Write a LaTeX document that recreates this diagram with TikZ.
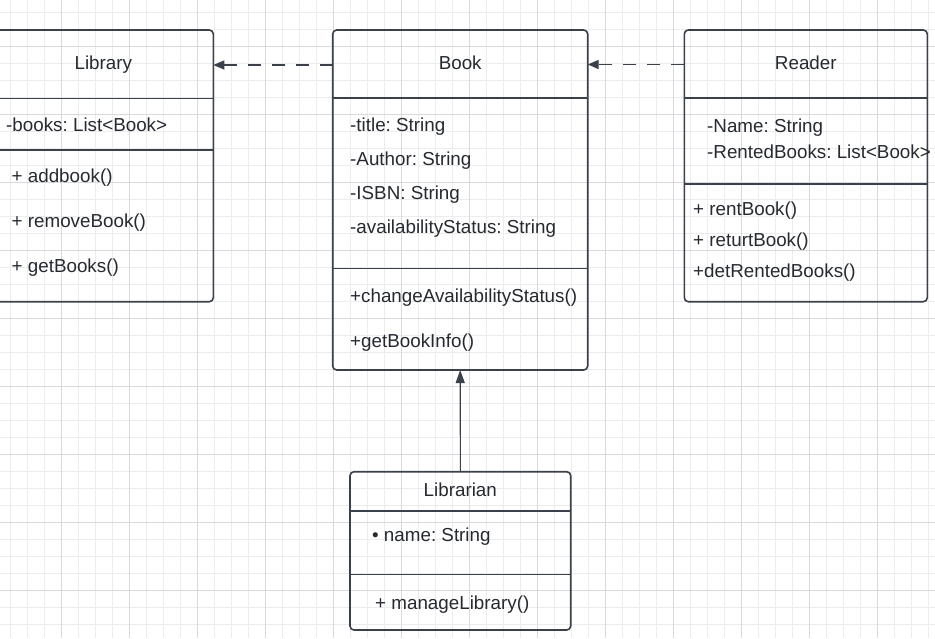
\documentclass[tikz,border=0pt]{standalone}
\usepackage{fontspec}
\setmainfont{Liberation Sans}
\frenchspacing
\usetikzlibrary{arrows.meta}
\definecolor{stroke}{HTML}{3A414A}
\definecolor{txt}{HTML}{262A30}
\definecolor{gridminor}{HTML}{ECECEC}
\definecolor{gridmajor}{HTML}{DADADA}
\begin{document}
\begin{tikzpicture}[x=1pt,y=-1pt,
  umlbox/.style={draw=stroke, line width=1.6pt, rounded corners=4pt, inner sep=0pt, outer sep=0pt, anchor=north west},
  divider/.style={draw=stroke, line width=1.6pt},
  ttl/.style={font=\fontsize{18.8}{22}\selectfont\frenchspacing, text=txt, anchor=base, inner sep=0pt},
  item/.style={font=\fontsize{18.8}{22}\selectfont\frenchspacing, text=txt, anchor=base west, inner sep=0pt},
  dep/.style={draw=stroke, line width=1.4pt, dash pattern=on 13pt off 11pt, -{Triangle[length=11pt,width=9pt]}},
  inh/.style={draw=stroke, line width=1.1pt, -{Triangle[length=13pt,width=9pt]}},
  gmin/.style={draw=gridminor, line width=1pt},
  gmaj/.style={draw=gridmajor, line width=1pt},
]
\useasboundingbox (0,0) rectangle (935,638);
\fill[white] (0,0) rectangle (935,638);
% grid
\foreach \k in {0,...,54} {\draw[gmin] ({10.3+17*\k},0) -- ({10.3+17*\k},638);}
\foreach \k in {0,...,37} {\draw[gmin] (0,{12+17*\k}) -- (935,{12+17*\k});}
\foreach \k in {0,...,13} {\draw[gmaj] ({-6.7+68*\k},0) -- ({-6.7+68*\k},638);}
\foreach \k in {0,...,8} {\draw[gmaj] (0,{46+68*\k}) -- (935,{46+68*\k});}

% Library
\node[umlbox, minimum width=221.3pt, minimum height=271.7pt] (library) at (-8,30) {};
\draw[divider] (-8,98.3) -- (213.3,98.3);
\draw[divider] (-8,150) -- (213.3,150);
\node[ttl] (libt) at (103.3,69) {Library};
\node[item] (lib1) at (6,131) {-books: List<Book>};
\node[item] (lib2) at (11.5,182) {+ addbook()};
\node[item] (lib3) at (11.5,227) {+ removeBook()};
\node[item] (lib4) at (11.5,272.5) {+ getBooks()};

% Book
\node[umlbox, minimum width=255pt, minimum height=340pt] (book) at (332.7,30) {};
\draw[divider] (332.7,98) -- (587.7,98);
\draw[divider] (332.7,268.5) -- (587.7,268.5);
\node[ttl] (bookt) at (460.2,69) {Book};
\node[item] (b1) at (350,131.3) {-title: String};
\node[item] (b2) at (350,165) {-Author: String};
\node[item] (b3) at (350,199.3) {-ISBN: String};
\node[item] (b4) at (350,233) {-availabilityStatus: String};
\node[item] (b5) at (350,302) {+changeAvailabilityStatus()};
\node[item] (b6) at (350,347) {+getBookInfo()};

% Reader
\node[umlbox, minimum width=243pt, minimum height=271.7pt] (reader) at (684.3,30) {};
\draw[divider] (684.3,97.7) -- (927.3,97.7);
\draw[divider] (684.3,183.7) -- (927.3,183.7);
\node[ttl] (readert) at (805.8,69) {Reader};
\node[item] (r1) at (707,132) {-Name: String};
\node[item] (r2) at (707,158.7) {-RentedBooks: List<Book>};
\node[item] (r3) at (693,215) {+ rentBook()};
\node[item] (r4) at (693,246) {+ returtBook()};
\node[item] (r5) at (693,277) {+detRentedBooks()};

% Librarian
\node[umlbox, minimum width=220.7pt, minimum height=158.3pt] (librarian) at (350,471.7) {};
\draw[divider] (350,511) -- (570.7,511);
\draw[divider] (350,574.5) -- (570.7,574.5);
\node[ttl] (libnt) at (460.3,496.3) {Librarian};
\node[item] (ln1) at (372,541.3) {\textbullet\ name: String};
\node[item] (ln2) at (375,609.7) {+ manageLibrary()};

% connectors
\coordinate (lvlA) at (0,65);
\coordinate (lvlB) at (0,64.5);
\draw[dep] (book.west |- lvlA) -- (library.east |- lvlA);
\draw[dep] (reader.west |- lvlB) -- (book.east |- lvlB);
\draw[inh] (librarian.north) -- (book.south);
\end{tikzpicture}
\end{document}
